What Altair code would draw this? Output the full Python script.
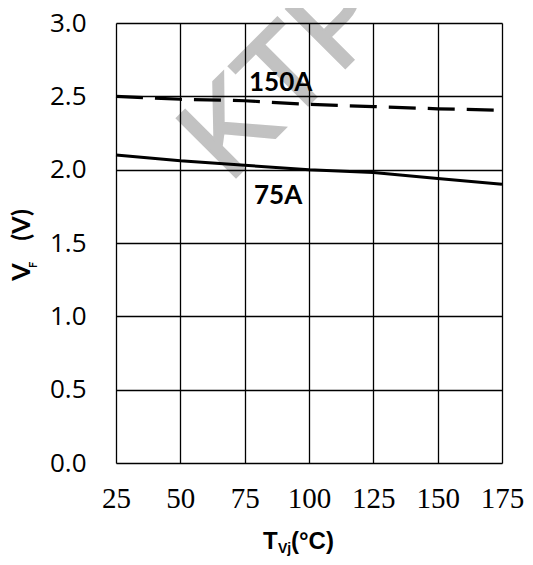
import altair as alt
import pandas as pd

temps = [25, 50, 75, 100, 125, 150, 175]
vf_75a = [2.10, 2.06, 2.03, 2.00, 1.98, 1.94, 1.90]
vf_150a = [2.50, 2.48, 2.47, 2.445, 2.43, 2.415, 2.405]
x_ticks = [25, 50, 75, 100, 125, 150, 175]
y_ticks = [0.0, 0.5, 1.0, 1.5, 2.0, 2.5, 3.0]
curve_names = ["150A", "75A"]
curve_label_x = [89, 88]
curve_label_y = [2.59, 1.82]

W, H = 386, 440

df75 = pd.DataFrame({"T": temps, "VF": vf_75a})
df150 = pd.DataFrame({"T": temps, "VF": vf_150a})
dflab = pd.DataFrame({"T": curve_label_x, "VF": curve_label_y, "name": curve_names})

xscale = alt.Scale(domain=[25, 175], nice=False, zero=False)
yscale = alt.Scale(domain=[0, 3], nice=False)

xaxis = alt.Axis(values=x_ticks, title=None, labelFont="Liberation Serif", labelFontSize=29,
                 labelPadding=21, ticks=False, tickSize=0, domain=False, grid=True,
                 gridColor="black", gridWidth=1.3, gridOpacity=1, labelColor="black",
                 labelFlush=False, labelOverlap=False, zindex=1)
yaxis = alt.Axis(values=y_ticks, format=".1f", title=None, labelFont="Open Sans", labelFontSize=26,
                 labelPadding=30, ticks=False, tickSize=0, domain=False, grid=True,
                 gridColor="black", gridWidth=1.3, gridOpacity=1, labelColor="black",
                 labelFlush=False, labelOverlap=False, zindex=1)

X = alt.X("T:Q", scale=xscale, axis=xaxis)
Y = alt.Y("VF:Q", scale=yscale, axis=yaxis)

def txt(s, x, y, size, font="Liberation Sans", weight="bold", angle=0, align="left",
        baseline="alphabetic", color="black", **kw):
    return alt.Chart(pd.DataFrame({"s": [s]})).mark_text(
        font=font, fontSize=size, fontWeight=weight, angle=angle, align=align,
        baseline=baseline, color=color, **kw
    ).encode(text="s:N", x=alt.value(x), y=alt.value(y))

watermark = txt("KTP", 113, 161, 121, font="Liberation Sans", weight="normal", angle=315,
                color="#c2c2c2", stroke="#c2c2c2", strokeWidth=2.5)

line75 = alt.Chart(df75).mark_line(color="black", strokeWidth=3).encode(x=X, y=Y)
line150 = alt.Chart(df150).mark_line(color="black", strokeWidth=3.2, strokeDash=[27, 12]).encode(x=X, y=Y)
labels = alt.Chart(dflab).mark_text(font="Lato", fontSize=26, fontWeight="bold", color="black",
                                    align="center", baseline="middle").encode(x=X, y=Y, text="name:N")

ytitle_v = txt("V", -94, 249, 25, font="Lato", angle=270, align="center", baseline="middle")
ytitle_f = txt("F", -82, 242, 11, font="Lato", angle=270, align="center", baseline="middle")
ytitle_u = txt("(V)", -94, 202, 25, font="Lato", angle=270, align="center", baseline="middle")

xtitle_t = txt("T", 147, 526, 24)
xtitle_s = txt("Vj", 162, 530, 14)
xtitle_u = txt("(°C)", 175, 526, 24)

chart = alt.layer(
    watermark, line75, line150, labels,
    ytitle_v, ytitle_f, ytitle_u, xtitle_t, xtitle_s, xtitle_u
).properties(
    width=W, height=H,
    autosize=alt.AutoSizeParams(type="none"),
    padding={"left": 108, "top": 15, "right": 23, "bottom": 94}
).configure_view(
    stroke="black", strokeWidth=1.5
).configure(background="white")

chart.save("out.html", embed_options={"renderer": "svg", "actions": False})
